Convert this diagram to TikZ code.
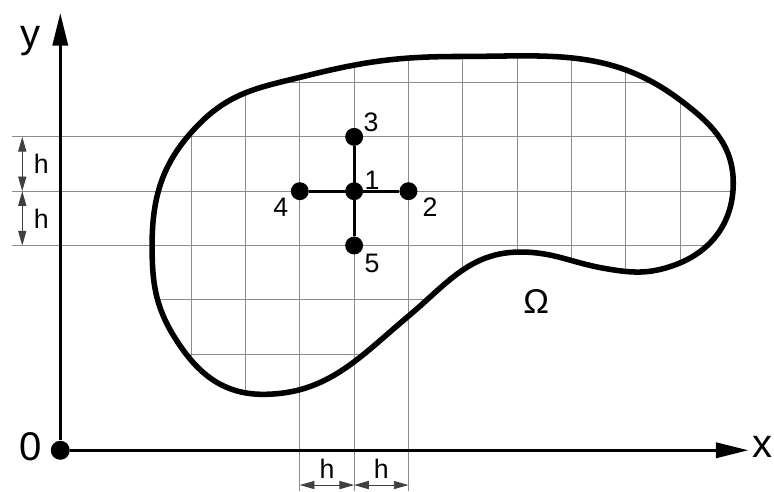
\documentclass[tikz,border=0pt]{standalone}
\usepackage{fontspec}
\setmainfont{Liberation Sans}
\usetikzlibrary{arrows.meta,positioning}
\tikzset{
  gridln/.style={draw=black!45, line width=0.5pt},
  bnd/.style={line width=2.9pt, line join=round},
  axis/.style={line width=1.5pt, -{Triangle[length=6mm,width=2.8mm]}},
  dimln/.style={line width=0.5pt, draw=black!75, {Triangle[length=2.7mm,width=1.5mm]}-{Triangle[length=2.7mm,width=1.5mm]}},
  pt/.style={circle, fill, inner sep=0pt, minimum size=3.3mm},
  stencil/.style={line width=1.5pt},
  num/.style={font=\fontsize{14}{14}\selectfont, inner sep=1pt},
  ax/.style={font=\fontsize{21}{21}\selectfont, inner sep=1pt},
  region/.style={insert path={(-3.72,-1.00)
    to[out=90, in=225] (-2.84,1.25)
    to[out=45, in=194] (-0.90,2.12)
    to[out=14, in=180] (1.95,2.48)
    to[out=0, in=143] (6.00,1.68)
    to[out=-37, in=90] (6.98,0.15)
    to[out=-90, in=20] (5.90,-1.36)
    to[out=200, in=-10] (4.60,-1.42)
    to[out=170, in=0] (3.06,-1.12)
    to[out=180, in=40] (1.00,-2.30)
    to[out=220, in=0] (-1.68,-3.74)
    to[out=180, in=-58] (-3.30,-2.70)
    to[out=122, in=-90] cycle}}
}

\begin{document}
\begin{tikzpicture}
\useasboundingbox (-6.52,-5.52) rectangle (7.73,3.52);
% grid inside the region
\begin{scope}
  \clip[region];
  \draw[gridln] (-4,-4) grid (8,3);
\end{scope}
\foreach \j in {-1,0,1}
  \draw[gridln] (-6.3,\j) -- (-3,\j);
\foreach \i in {-1,0,1}
  \draw[gridln] (\i,-1) -- (\i,-5.52);
\draw[bnd, region];
\node[num, font=\fontsize{18}{18}\selectfont] (om) at (3.35,-2.04) {Ω};

% axes
\node[pt, minimum size=3.5mm] (O) at (-5.41,-4.77) {};
\coordinate (xend) at (7.26,-4.77);
\coordinate (yend) at (-5.41,3.28);
\draw[axis] (O) -- (xend);
\draw[axis] (O) -- (yend);
\node[ax] (xl) at (7.52,-4.71) {x};
\node[ax] (yl) at (-5.95,2.76) {y};
\node[ax] (ol) at (-5.95,-4.71) {0};

% five-point stencil
\node[pt] (p1) at (0,0) {};
\node[pt] (p2) at (1,0) {};
\node[pt] (p3) at (0,1) {};
\node[pt] (p4) at (-1,0) {};
\node[pt] (p5) at (0,-1) {};
\draw[stencil] (p4) -- (p2);
\draw[stencil] (p3) -- (p5);
\node[num] at (0.33,0.20) {1};
\node[num] at (1.40,-0.29) {2};
\node[num] at (0.31,1.27) {3};
\node[num] at (-1.35,-0.29) {4};
\node[num] at (0.33,-1.33) {5};

% step h
\coordinate (ha) at (-6.11,1);
\coordinate (hb) at (-6.11,0);
\coordinate (hc) at (-6.11,-1);
\draw[dimln] (ha) -- (hb);
\draw[dimln] (hb) -- (hc);
\node[num] at (-5.76,0.5) {h};
\node[num] at (-5.76,-0.5) {h};
\coordinate (va) at (-1,-5.41);
\coordinate (vb) at (0,-5.41);
\coordinate (vc) at (1,-5.41);
\draw[dimln] (va) -- (vb);
\draw[dimln] (vb) -- (vc);
\node[num] at (-0.5,-5.12) {h};
\node[num] at (0.5,-5.12) {h};
\end{tikzpicture}
\end{document}
